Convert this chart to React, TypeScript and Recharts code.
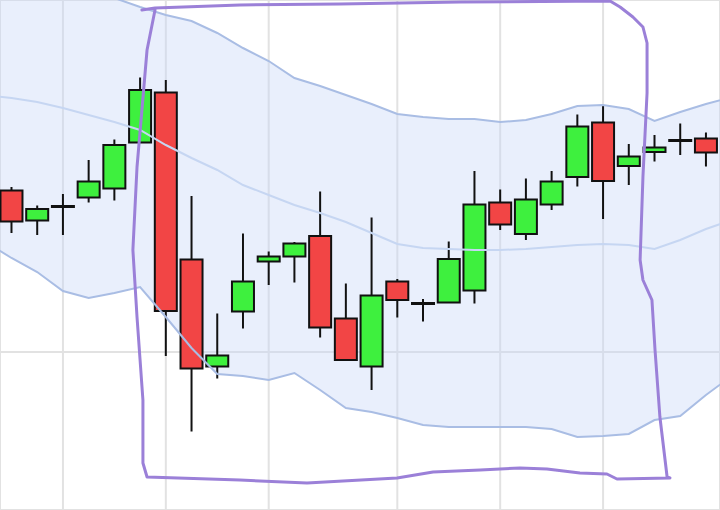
import React from 'react';
import { ComposedChart, Area, Line, Bar, Scatter, XAxis, YAxis, CartesianGrid } from 'recharts';

// Day index (-1 and 28 are the off-screen neighbours used only by the bands)
const dayIndex = [-1, 0, 1, 2, 3, 4, 5, 6, 7, 8, 9, 10, 11, 12, 13, 14, 15, 16, 17, 18, 19, 20, 21, 22, 23, 24, 25, 26, 27, 28];

// Candles (days 0..27)
const open = [112.3, 106.3, 109.2, 110.9, 112.7, 121.9, 131.9, 98.5, 77.1, 88.1, 98.1, 99.1, 103.2, 86.7, 77.1, 94.1, 89.8, 89.9, 92.3, 109.9, 103.6, 109.5, 115.0, 125.9, 117.2, 120.0, 122.4, 122.7];
const high = [113.0, 109.3, 111.6, 118.4, 122.5, 134.9, 134.4, 111.2, 87.7, 103.7, 100.1, 102.0, 112.1, 93.7, 106.9, 94.6, 90.6, 102.1, 116.2, 112.5, 114.7, 116.2, 127.5, 129.4, 121.6, 123.4, 125.7, 123.9];
const low = [103.8, 103.4, 103.4, 109.9, 110.3, 121.9, 79.2, 64.1, 74.7, 84.7, 93.4, 93.9, 82.9, 78.4, 72.4, 86.9, 86.1, 89.9, 89.7, 104.4, 102.4, 108.4, 113.1, 106.6, 113.4, 118.1, 119.4, 117.1];
const close = [106.1, 108.6, 109.1, 114.1, 121.4, 132.4, 88.2, 76.7, 79.3, 94.1, 99.1, 101.7, 84.9, 78.4, 91.3, 90.4, 89.7, 98.6, 109.5, 105.5, 110.5, 114.1, 125.1, 114.2, 119.1, 120.9, 122.4, 119.9];

// Bollinger bands (days -1..28)
const upper = [159.0, 157.4, 155.8, 154.2, 152.4, 150.8, 149.0, 147.4, 146.2, 143.8, 140.8, 138.2, 134.8, 133.2, 131.4, 129.6, 127.6, 127.0, 126.6, 126.6, 126.0, 126.4, 127.6, 129.2, 129.4, 128.6, 126.2, 128.0, 129.6, 131.0];
const middle = [131.4, 130.8, 130.0, 128.8, 127.4, 126.0, 124.4, 121.4, 118.8, 116.4, 113.4, 111.4, 109.4, 107.8, 106.0, 103.8, 101.6, 100.8, 100.6, 100.4, 100.4, 100.6, 101.0, 101.4, 101.6, 101.4, 100.6, 102.4, 104.6, 106.4];
const lower = [102.0, 98.8, 96.0, 92.2, 90.8, 91.8, 93.0, 87.0, 80.8, 75.6, 75.2, 74.4, 75.8, 72.4, 68.8, 68.0, 66.8, 65.4, 65.0, 65.0, 65.0, 65.0, 64.6, 63.0, 63.2, 63.6, 66.4, 67.2, 71.4, 75.2];

// Grid ticks
const xTicks = [2, 6, 10, 15, 19, 23];
const yTicks = [80];

// Hand-drawn annotation outline (day, price)
const annoX = [5.07, 5.58, 8.88, 12.77, 17.44, 23.27, 23.66, 24.16, 24.55, 24.71, 24.71, 24.55, 24.44, 24.55, 24.9, 25.02, 25.21, 25.49, 25.6, 23.54, 23.15, 22.1, 20.82, 19.77, 18.22, 16.39, 14.99, 11.49, 8.88, 5.27, 5.11, 5.11, 4.88, 4.72, 4.88, 5.27, 5.58];
const annoY = [148.4, 148.8, 149.4, 149.6, 150.0, 150.2, 149.0, 147.0, 145.0, 141.8, 131.8, 115.0, 98.4, 94.4, 90.4, 80.4, 67.0, 55.0, 54.8, 54.6, 55.6, 55.8, 56.6, 56.8, 56.4, 56.0, 54.8, 53.8, 54.4, 55.0, 57.8, 70.4, 87.0, 100.4, 117.0, 140.4, 148.4];

const rows = dayIndex.map((d, k) => {
  const c = k - 1;
  const has = c >= 0 && c < open.length;
  return {
    i: d,
    upper: upper[k],
    middle: middle[k],
    lower: lower[k],
    open: has ? open[c] : null,
    high: has ? high[c] : null,
    low: has ? low[c] : null,
    close: has ? close[c] : null,
  };
});

const annotation = annoX.map((x, k) => ({ i: x, p: annoY[k] }));

const GREEN = '#3ef03e';
const RED = '#f24545';
const INK = '#111111';
const BODY_W = 22;

const Candle = (props: any) => {
  const { x, y, width, height, payload } = props;
  if (!payload || payload.open == null || height == null || isNaN(height)) return <g />;
  const top = Math.min(y, y + height);
  const h = Math.abs(height);
  const { open: o, close: c, high: hi, low: lo } = payload;
  const py = (v: number) => top + ((hi - v) / (hi - lo)) * h;
  const cx = x + (width || 0) / 2;
  const bodyTop = Math.min(py(o), py(c));
  const bodyH = Math.max(Math.abs(py(o) - py(c)), 1);
  const up = c >= o;
  return (
    <g>
      <line x1={cx} x2={cx} y1={py(hi)} y2={py(lo)} stroke={INK} strokeWidth={2} />
      <rect x={cx - BODY_W / 2} y={bodyTop} width={BODY_W} height={bodyH} fill={up ? GREEN : RED} stroke={INK} strokeWidth={2} />
    </g>
  );
};

export default function App() {
  return (
    <div style={{ position: 'absolute', left: 0, top: 0, width: 720, height: 510, background: '#ffffff' }}>
      <ComposedChart width={720} height={510} data={rows} margin={{ top: 0, right: 0, bottom: 0, left: 0 }}>
        <CartesianGrid stroke="#e2e2e2" strokeWidth={2} />
        <XAxis dataKey="i" type="number" domain={[-0.447, 27.546]} allowDataOverflow ticks={xTicks} hide />
        <YAxis type="number" domain={[48.4, 150.4]} allowDataOverflow ticks={yTicks} hide />
        <Area
          dataKey={(d: any) => [d.lower, d.upper]}
          type="linear"
          fill="#c8d8f8"
          fillOpacity={0.4}
          stroke="none"
          dot={false}
          activeDot={false}
          isAnimationActive={false}
        />
        <Line dataKey="upper" type="linear" stroke="#a9bde4" strokeWidth={2} dot={false} activeDot={false} isAnimationActive={false} />
        <Line dataKey="middle" type="linear" stroke="#c6d6f2" strokeWidth={2} dot={false} activeDot={false} isAnimationActive={false} />
        <Line dataKey="lower" type="linear" stroke="#a9bde4" strokeWidth={2} dot={false} activeDot={false} isAnimationActive={false} />
        <Bar
          dataKey={(d: any) => (d.low == null ? null : [d.low, d.high])}
          barSize={21}
          shape={Candle}
          activeBar={false}
          isAnimationActive={false}
        />
        <Scatter
          data={annotation}
          dataKey="p"
          line={{ stroke: '#9b80d8', strokeWidth: 3, strokeLinejoin: 'round', strokeLinecap: 'round' }}
          shape={() => <g />}
          isAnimationActive={false}
        />
      </ComposedChart>
    </div>
  );
}
